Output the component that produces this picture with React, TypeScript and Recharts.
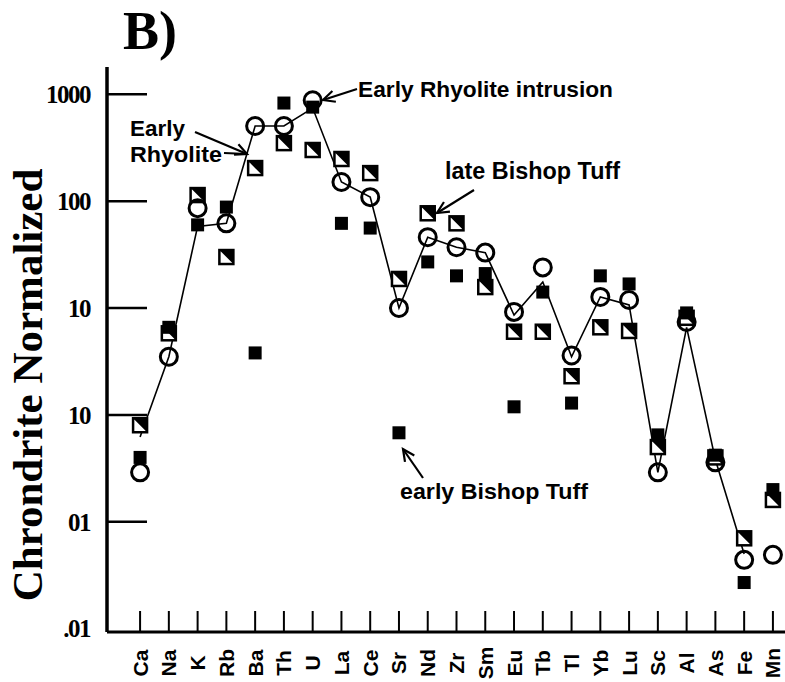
import { ComposedChart, Line, XAxis, YAxis } from "recharts";

const elements = ["Ca", "Na", "K", "Rb", "Ba", "Th", "U", "La", "Ce", "Sr", "Nd", "Zr", "Sm", "Eu", "Tb", "Tl", "Yb", "Lu", "Sc", "Al", "As", "Fe", "Mn"];

// Early Rhyolite trend line (ends at Fe)
const earlyRhyolite = [0.62, 3.5, 58, 62, 505, 505, 743, 151, 109, 10, 46, 37, 33, 8.6, 17.5, 3.5, 12.7, 10.7, 0.29, 6.6, 0.38, 0.05, null];
// open circles
const rhyoliteIntrusion = [0.29, 3.5, 86, 62, 505, 505, 880, 151, 109, 10, 46, 37, 33, 9.2, 24, 3.6, 12.7, 11.9, 0.29, 7.4, 0.36, 0.044, 0.049];
// half filled squares
const lateBishopTuff = [0.8, 5.8, 114, 30, 204, 349, 301, 248, 183, 18.7, 77, 62, 15.7, 6.0, 6.0, 2.3, 6.6, 6.1, 0.5, 8.1, 0.4, 0.07, 0.16];
// filled squares
const earlyBishopTuff = [0.4, 6.6, 60, 88, 3.8, 828, 758, 62, 56, 0.68, 27, 20, 21, 1.19, 14.1, 1.29, 20, 16.8, 0.65, 9.0, 0.42, 0.027, 0.2];

const yTicks = [0.01, 0.1, 1, 10, 100, 1000];
const yTickLabels = [".01", "01", "10", "10", "100", "1000"];

const rows = elements.map((el, i) => ({
  idx: i,
  el,
  line: earlyRhyolite[i],
  circle: rhyoliteIntrusion[i],
  half: lateBishopTuff[i],
  filled: earlyBishopTuff[i],
}));

const serif = "'Liberation Serif', 'Times New Roman', serif";
const sans = "'Liberation Sans', Arial, sans-serif";

const XTick = ({ x, y, payload }: any) => {
  const ly = y + 31;
  return (
    <g>
      <line x1={x} x2={x} y1={y} y2={y - 21} stroke="#000" strokeWidth={2} />
      <text
        x={x}
        y={ly}
        transform={`rotate(-90 ${x} ${ly})`}
        textAnchor="middle"
        dominantBaseline="central"
        fontFamily={sans}
        fontWeight="bold"
        fontSize={21}
        fill="#000"
      >
        {elements[payload.value]}
      </text>
    </g>
  );
};

const YTick = ({ x, y, payload }: any) => {
  const i = yTicks.indexOf(payload.value);
  return (
    <g>
      {payload.value > 0.01 && (
        <line x1={x} x2={x + 40} y1={y} y2={y} stroke="#000" strokeWidth={2.5} />
      )}
      <text
        x={x - 17}
        y={y}
        dy="0.35em"
        textAnchor="end"
        fontFamily={serif}
        fontWeight="bold"
        fontSize={25}
        letterSpacing={-1.5}
        fill="#000"
      >
        {yTickLabels[i]}
      </text>
    </g>
  );
};

const CircleDot = (p: any) => {
  if (p.cy == null || p.value == null) return <g key={p.key} />;
  return <circle key={p.key} cx={p.cx} cy={p.cy} r={8.5} fill="none" stroke="#000" strokeWidth={3} />;
};

const HalfSquare = (p: any) => {
  if (p.cy == null || p.value == null) return <g key={p.key} />;
  const s = 7;
  const { cx, cy } = p;
  return (
    <g key={p.key}>
      <rect x={cx - s} y={cy - s} width={2 * s} height={2 * s} fill="#fff" stroke="#000" strokeWidth={2.5} />
      <polygon points={`${cx - s},${cy - s} ${cx + s},${cy - s} ${cx + s},${cy + s}`} fill="#000" />
    </g>
  );
};

const FilledSquare = (p: any) => {
  if (p.cy == null || p.value == null) return <g key={p.key} />;
  const s = 6.5;
  return <rect key={p.key} x={p.cx - s} y={p.cy - s} width={2 * s} height={2 * s} fill="#000" />;
};

const Arrow = ({ x1, y1, x2, y2, head = true }: any) => {
  const a = Math.atan2(y2 - y1, x2 - x1);
  const len = 13;
  const spread = 0.45;
  const h1 = [x2 - len * Math.cos(a - spread), y2 - len * Math.sin(a - spread)];
  const h2 = [x2 - len * Math.cos(a + spread), y2 - len * Math.sin(a + spread)];
  return (
    <g stroke="#000" strokeWidth={2.2} fill="none">
      <line x1={x1} y1={y1} x2={x2} y2={y2} />
      {head && <polyline points={`${h1[0]},${h1[1]} ${x2},${y2} ${h2[0]},${h2[1]}`} />}
    </g>
  );
};

const noteStyle = { fontFamily: sans, fontWeight: "bold" as const, fontSize: 22, fill: "#000" };

export default function App() {
  return (
    <div style={{ position: "absolute", left: 0, top: 0, width: 785, height: 682, background: "#fff", overflow: "hidden" }}>
      <ComposedChart width={785} height={682} data={rows} margin={{ top: 67, right: 0, bottom: 0, left: 0 }}>
        <XAxis
          dataKey="idx"
          type="number"
          domain={[-1.15, 22.42]}
          ticks={elements.map((_, i) => i)}
          allowDataOverflow
          height={50}
          tickSize={0}
          tickMargin={0}
          tickLine={false}
          interval={0}
          axisLine={{ stroke: "#000", strokeWidth: 3 }}
          tick={<XTick />}
        />
        <XAxis
          xAxisId="top"
          orientation="top"
          dataKey="idx"
          type="number"
          domain={[-1.15, 22.42]}
          allowDataOverflow
          height={0}
          tick={false}
          tickLine={false}
          axisLine={{ stroke: "#000", strokeWidth: 2.5 }}
        />
        <YAxis
          type="number"
          scale="log"
          domain={[0.0093, 1800]}
          allowDataOverflow
          ticks={yTicks}
          interval={0}
          width={107}
          tickSize={0}
          tickMargin={0}
          tickLine={false}
          axisLine={{ stroke: "#000", strokeWidth: 3.5 }}
          tick={<YTick />}
        />
        <Line
          dataKey="line"
          stroke="#000"
          strokeWidth={1.6}
          dot={false}
          activeDot={false}
          connectNulls={false}
          isAnimationActive={false}
        />
        <Line dataKey="half" stroke="none" dot={HalfSquare} activeDot={false} isAnimationActive={false} />
        <Line dataKey="filled" stroke="none" dot={FilledSquare} activeDot={false} isAnimationActive={false} />
        <Line dataKey="circle" stroke="none" dot={CircleDot} activeDot={false} isAnimationActive={false} />
      </ComposedChart>
      <svg width={785} height={682} style={{ position: "absolute", left: 0, top: 0, pointerEvents: "none" }}>
        <text x={123} y={49} fontFamily={serif} fontWeight="bold" fontSize={54} fill="#000">
          B)
        </text>
        <text
          x={42}
          y={385}
          transform="rotate(-90 42 385)"
          textAnchor="middle"
          fontFamily={serif}
          fontWeight="bold"
          fontSize={43}
          fill="#000"
        >
          Chrondrite Normalized
        </text>

        <text x={358} y={97} textLength={255} lengthAdjust="spacingAndGlyphs" {...noteStyle}>
          Early Rhyolite intrusion
        </text>
        <Arrow x1={357} y1={89} x2={323} y2={100} />

        <text x={130} y={136} textLength={55} lengthAdjust="spacingAndGlyphs" {...noteStyle}>
          Early
        </text>
        <text x={130} y={162} textLength={92} lengthAdjust="spacingAndGlyphs" {...noteStyle}>
          Rhyolite
        </text>
        <Arrow x1={195} y1={132} x2={247} y2={154} />
        <Arrow x1={224} y1={153} x2={247} y2={154} head={false} />

        <text x={445} y={179} textLength={175} lengthAdjust="spacingAndGlyphs" {...noteStyle} fontSize={23}>
          late Bishop Tuff
        </text>
        <Arrow x1={474} y1={190} x2={437} y2={213} />

        <text x={400} y={499} textLength={188} lengthAdjust="spacingAndGlyphs" {...noteStyle}>
          early Bishop Tuff
        </text>
        <Arrow x1={423} y1={478} x2={403} y2={449} />
      </svg>
    </div>
  );
}
